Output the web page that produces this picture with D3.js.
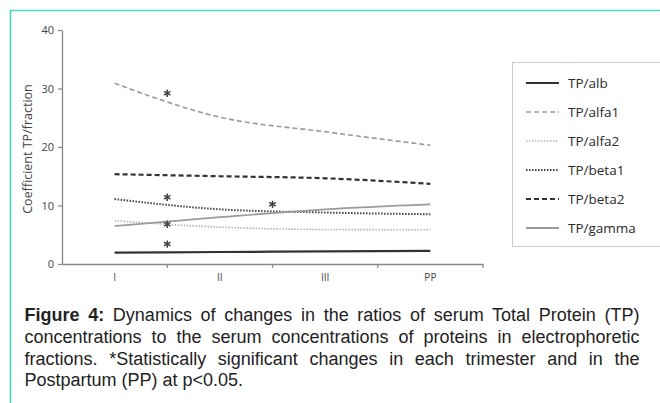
<!DOCTYPE html>
<html><head><meta charset="utf-8">
<script src="https://cdn.jsdelivr.net/npm/d3@7"></script>
<style>
html,body{margin:0;padding:0;background:#fff;}
svg{display:block;}
</style></head>
<body>
<svg id="c" width="660" height="403"></svg>
<script>
const categories = ["I","II","III","PP"];
const yTicks = [0,10,20,30,40];
const seriesNames = ["TP/alb","TP/alfa1","TP/alfa2","TP/beta1","TP/beta2","TP/gamma"];
const albValues   = [1.95, 2.05, 2.15, 2.25];
const alfa1Values = [30.9, 25.1, 22.6, 20.3];
const alfa2Values = [7.4, 6.3, 5.9, 5.85];
const beta1Values = [11.1, 9.35, 8.8, 8.5];
const beta2Values = [15.35, 15.0, 14.65, 13.7];
const gammaValues = [6.5, 8.0, 9.35, 10.2];
// significance markers: placed on the boundary after category index `after`
const markerAfter  = [0, 0, 0, 0, 1];
const markerValues = [29.2, 11.4, 6.8, 3.4, 10.2];
const captionBold = "Figure 4:";
const captionLines = [
  " Dynamics of changes in the ratios of serum Total Protein (TP)",
  "concentrations to the serum concentrations of proteins in electrophoretic",
  "fractions. *Statistically significant changes in each trimester and in the",
  "Postpartum (PP) at p<0.05."
];

const styles = [
  {color:"#333", w:2.2, dash:null},
  {color:"#999", w:1.6, dash:"5,3"},
  {color:"#b0b0b0", w:1.6, dash:"1.5,1.5"},
  {color:"#444", w:2, dash:"1.5,1.5"},
  {color:"#333", w:2.2, dash:"5,3"},
  {color:"#9a9a9a", w:1.8, dash:null}
];
const allValues = [albValues, alfa1Values, alfa2Values, beta1Values, beta2Values, gammaValues];

const svg = d3.select("#c");
// teal frame
svg.append("path").attr("d","M10.5,403 V10.5 H660").attr("fill","none")
  .attr("stroke","#52d3c3").attr("stroke-width",1.6);

const x = d3.scaleBand().domain(categories).range([62,483]);
const y = d3.scaleLinear().domain([0,40]).range([264,30]);

// axes
const yAx = svg.append("g").attr("transform","translate(62,0)")
  .call(d3.axisLeft(y).tickValues(yTicks).tickSize(4).tickPadding(4).tickSizeOuter(0));
const xAx = svg.append("g").attr("transform","translate(0,264)")
  .call(d3.axisBottom(x).tickSize(0).tickPadding(10));
[yAx,xAx].forEach(g=>{
  g.select(".domain").attr("stroke","#888").attr("stroke-width",1.3);
  g.selectAll(".tick line").attr("stroke","#888").attr("stroke-width",1.2);
  g.selectAll("text").attr("fill","#444").style("font-family","Open Sans").style("font-size","11px");
});
xAx.selectAll("text").style("font-size","10px");
// boundary ticks on x axis
const bounds = categories.map(c=>x(c)+x.bandwidth());
svg.append("g").selectAll("line").data(bounds).join("line")
  .attr("x1",d=>d).attr("x2",d=>d).attr("y1",264).attr("y2",268)
  .attr("stroke","#888").attr("stroke-width",1.2);

// y label
svg.append("text").attr("transform","translate(32,149) rotate(-90)")
  .attr("text-anchor","middle").attr("fill","#444")
  .style("font-family","Open Sans").style("font-size","12.5px")
  .text("Coefficient TP/fraction");

// lines
const line = d3.line().x((d,i)=>x(categories[i])+x.bandwidth()/2).y(d=>y(d)).curve(d3.curveMonotoneX);
allValues.forEach((vals,k)=>{
  const s = styles[k];
  svg.append("path").datum(vals).attr("d",line).attr("fill","none")
    .attr("stroke",s.color).attr("stroke-width",s.w)
    .attr("stroke-dasharray",s.dash);
});

// markers
const ast = d3.symbol().type(d3.symbolAsterisk).size(38);
svg.append("g").selectAll("path").data(markerValues).join("path")
  .attr("d",ast)
  .attr("transform",(d,i)=>`translate(${x(categories[markerAfter[i]])+x.bandwidth()},${y(d)})`)
  .attr("fill","none").attr("stroke","#444").attr("stroke-width",1.5);

// legend
svg.append("rect").attr("x",512.5).attr("y",62.5).attr("width",160).attr("height",184)
  .attr("fill","#fff").attr("stroke","#ccc").attr("stroke-width",1);
seriesNames.forEach((n,k)=>{
  const s = styles[k];
  const yy = 83 + k*29;
  svg.append("line").attr("x1",526).attr("x2",559).attr("y1",yy).attr("y2",yy)
    .attr("stroke",s.color).attr("stroke-width",s.w).attr("stroke-dasharray",s.dash);
  svg.append("text").attr("x",568).attr("y",yy+5).attr("fill","#2a2a2a")
    .style("font-family","Open Sans").style("font-size","13.5px").text(n);
});

// caption
const capX = 24.5, capW = 615, baselines = [321, 343, 364.5, 386];
captionLines.forEach((t,i)=>{
  const tx = svg.append("text").attr("x",capX).attr("y",baselines[i]).attr("fill","#222")
    .style("font-family","Liberation Sans").style("font-size","18px");
  if(i===0){ tx.append("tspan").style("font-weight","bold").text(captionBold); }
  tx.append("tspan").text(t);
  if(i<captionLines.length-1){
    const w = tx.node().getComputedTextLength();
    const spaces = ((i===0?captionBold:"")+t).split(" ").length-1;
    tx.style("word-spacing", ((capW-w)/spaces)+"px");
  }
});
</script>
</body></html>
